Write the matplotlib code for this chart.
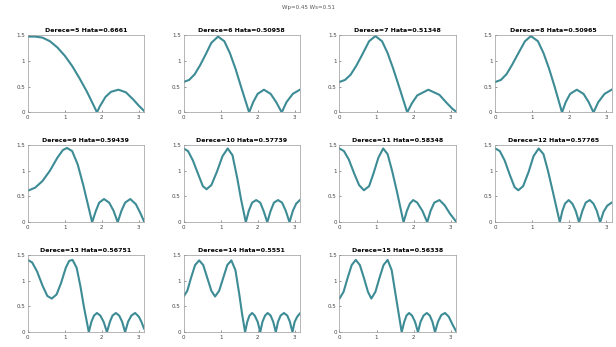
import matplotlib
matplotlib.use('Agg')
import matplotlib.pyplot as plt

# values (x in rad, y = magnitude)
titles = ['Derece=5 Hata=0.6661', 'Derece=6 Hata=0.50958', 'Derece=7 Hata=0.51348',
          'Derece=8 Hata=0.50965', 'Derece=9 Hata=0.59439', 'Derece=10 Hata=0.57739',
          'Derece=11 Hata=0.58348', 'Derece=12 Hata=0.57765', 'Derece=13 Hata=0.56751',
          'Derece=14 Hata=0.5551', 'Derece=15 Hata=0.56338']

x5 = [0, 0.2, 0.4, 0.6, 0.8, 1.0, 1.2, 1.4, 1.6, 1.75, 1.87, 1.95, 2.1, 2.25, 2.45, 2.65, 2.85, 3.0, 3.14]
y5 = [1.47, 1.47, 1.45, 1.38, 1.26, 1.1, 0.9, 0.66, 0.4, 0.18, 0.0, 0.12, 0.3, 0.4, 0.44, 0.39, 0.25, 0.13, 0.03]

x6 = [0, 0.15, 0.3, 0.45, 0.6, 0.75, 0.93, 1.1, 1.25, 1.4, 1.55, 1.77, 1.88, 2.0, 2.17, 2.35, 2.5, 2.65, 2.78, 2.95, 3.14]
y6 = [0.59, 0.63, 0.74, 0.92, 1.13, 1.35, 1.47, 1.38, 1.15, 0.85, 0.5, 0.0, 0.2, 0.36, 0.44, 0.36, 0.2, 0.0, 0.2, 0.36, 0.44]

x7 = [0, 0.15, 0.3, 0.45, 0.6, 0.8, 0.97, 1.15, 1.3, 1.45, 1.6, 1.83, 1.95, 2.1, 2.4, 2.7, 2.9, 3.05, 3.14]
y7 = [0.59, 0.63, 0.73, 0.9, 1.1, 1.38, 1.48, 1.38, 1.15, 0.85, 0.52, 0.0, 0.17, 0.33, 0.44, 0.34, 0.18, 0.07, 0.02]

x8 = [0, 0.15, 0.3, 0.45, 0.6, 0.8, 0.96, 1.15, 1.3, 1.45, 1.6, 1.8, 1.9, 2.02, 2.2, 2.38, 2.52, 2.65, 2.78, 2.95, 3.14]
y8 = [0.59, 0.63, 0.74, 0.92, 1.12, 1.38, 1.48, 1.38, 1.15, 0.85, 0.5, 0.0, 0.2, 0.36, 0.44, 0.36, 0.2, 0.0, 0.2, 0.36, 0.44]

x9 = [0, 0.2, 0.4, 0.6, 0.8, 0.95, 1.06, 1.2, 1.35, 1.5, 1.74, 1.84, 1.93, 2.06, 2.2, 2.32, 2.43, 2.53,
      2.63, 2.77, 2.92, 3.04, 3.14]
y9 = [0.61, 0.67, 0.8, 1.0, 1.25, 1.4, 1.44, 1.38, 1.12, 0.72, 0.0, 0.22, 0.38, 0.45, 0.38, 0.22, 0.0, 0.22,
      0.38, 0.45, 0.35, 0.18, 0.02]

x10 = [0, 0.12, 0.25, 0.4, 0.52, 0.62, 0.75, 0.9, 1.05, 1.19, 1.32, 1.45, 1.55, 1.68, 1.76, 1.85, 1.96, 2.07,
       2.16, 2.26, 2.35, 2.44, 2.55, 2.66, 2.76, 2.86, 2.95, 3.04, 3.14]
y10 = [1.43, 1.38, 1.2, 0.92, 0.7, 0.64, 0.72, 0.98, 1.28, 1.43, 1.3, 0.85, 0.45, 0.0, 0.22, 0.38, 0.43, 0.38,
       0.22, 0.0, 0.22, 0.38, 0.43, 0.38, 0.22, 0.0, 0.22, 0.36, 0.43]

x11 = [0, 0.12, 0.25, 0.4, 0.53, 0.66, 0.8, 0.92, 1.05, 1.18, 1.3, 1.42, 1.55, 1.73, 1.82, 1.9, 1.99, 2.1,
       2.24, 2.37, 2.46, 2.56, 2.7, 2.84, 2.98, 3.14]
y11 = [1.43, 1.38, 1.22, 0.94, 0.72, 0.62, 0.7, 0.95, 1.25, 1.43, 1.32, 1.0, 0.6, 0.0, 0.22, 0.36, 0.43, 0.38,
       0.22, 0.0, 0.22, 0.38, 0.43, 0.33, 0.17, 0.02]

x12 = [0, 0.12, 0.25, 0.4, 0.52, 0.62, 0.75, 0.9, 1.03, 1.17, 1.3, 1.42, 1.55, 1.74, 1.81, 1.88, 1.98, 2.08,
       2.17, 2.26, 2.35, 2.44, 2.55, 2.65, 2.74, 2.83, 2.92, 3.02, 3.14]
y12 = [1.43, 1.38, 1.2, 0.9, 0.68, 0.62, 0.7, 0.98, 1.28, 1.43, 1.32, 1.0, 0.6, 0.0, 0.22, 0.36, 0.43, 0.36,
       0.22, 0.0, 0.22, 0.38, 0.43, 0.36, 0.22, 0.0, 0.2, 0.32, 0.38]

x13 = [0, 0.12, 0.25, 0.4, 0.53, 0.65, 0.78, 0.9, 1.03, 1.12, 1.21, 1.32, 1.42, 1.52, 1.65, 1.72, 1.79, 1.87,
       1.96, 2.05, 2.14, 2.22, 2.29, 2.38, 2.47, 2.55, 2.63, 2.71, 2.8, 2.9, 3.0, 3.07, 3.14]
y13 = [1.4, 1.35, 1.18, 0.9, 0.7, 0.65, 0.73, 0.95, 1.25, 1.38, 1.4, 1.25, 0.9, 0.48, 0.0, 0.2, 0.32, 0.37,
       0.32, 0.2, 0.0, 0.2, 0.32, 0.37, 0.32, 0.2, 0.0, 0.2, 0.32, 0.37, 0.3, 0.2, 0.07]

x14 = [0, 0.1, 0.2, 0.31, 0.42, 0.53, 0.64, 0.75, 0.85, 0.96, 1.07, 1.18, 1.29, 1.4, 1.5, 1.58, 1.66, 1.72,
       1.78, 1.85, 1.92, 2.0, 2.07, 2.13, 2.2, 2.27, 2.35, 2.42, 2.49, 2.55, 2.62, 2.71, 2.8, 2.87, 2.94, 3.0,
       3.07, 3.14]
y14 = [0.69, 0.8, 1.05, 1.3, 1.39, 1.3, 1.05, 0.8, 0.69, 0.8, 1.05, 1.3, 1.39, 1.2, 0.75, 0.35, 0.0, 0.2,
       0.32, 0.37, 0.32, 0.2, 0.0, 0.2, 0.32, 0.37, 0.32, 0.2, 0.0, 0.2, 0.32, 0.37, 0.32, 0.2, 0.0, 0.2,
       0.3, 0.36]

x15 = [0, 0.11, 0.22, 0.33, 0.44, 0.55, 0.66, 0.77, 0.86, 0.97, 1.08, 1.19, 1.3, 1.41, 1.51, 1.6, 1.68, 1.75,
       1.81, 1.88, 1.96, 2.04, 2.12, 2.19, 2.27, 2.36, 2.44, 2.51, 2.58, 2.66, 2.75, 2.85, 2.95, 3.05, 3.14]
y15 = [0.65, 0.78, 1.05, 1.3, 1.4, 1.3, 1.05, 0.78, 0.65, 0.78, 1.05, 1.3, 1.4, 1.2, 0.75, 0.35, 0.0, 0.2,
       0.32, 0.37, 0.32, 0.2, 0.0, 0.2, 0.32, 0.37, 0.32, 0.2, 0.0, 0.2, 0.33, 0.37, 0.3, 0.15, 0.03]

xs = [x5, x6, x7, x8, x9, x10, x11, x12, x13, x14, x15]
ys = [y5, y6, y7, y8, y9, y10, y11, y12, y13, y14, y15]

fig, axes = plt.subplots(3, 4, figsize=(6.16, 3.47), dpi=100)
plt.subplots_adjust(left=0.045, right=0.993, bottom=0.043, top=0.899, wspace=0.34, hspace=0.42)
fig.suptitle('Wp=0.45 Ws=0.51', fontsize=4, color='#555555', y=0.985)

for i, ax in enumerate(axes.flat):
    if i >= len(xs):
        ax.axis('off')
        continue
    ax.plot(xs[i], ys[i], color='#3d8c95', lw=1.5)
    ax.set_xlim(0, 3.14159)
    ax.set_ylim(0, 1.5)
    ax.set_xticks([0, 1, 2, 3])
    ax.set_yticks([0, 0.5, 1, 1.5])
    ax.set_yticklabels(['0', '0.5', '1', '1.5'])
    ax.tick_params(direction='in', length=1.5, width=0.4, labelsize=4, pad=2, colors='#444444')
    for s in ax.spines.values():
        s.set_linewidth(0.5)
        s.set_color('#999999')
    ax.set_title(titles[i], fontsize=4.5, fontweight='bold', pad=2)

plt.savefig('out.png', dpi=100)
